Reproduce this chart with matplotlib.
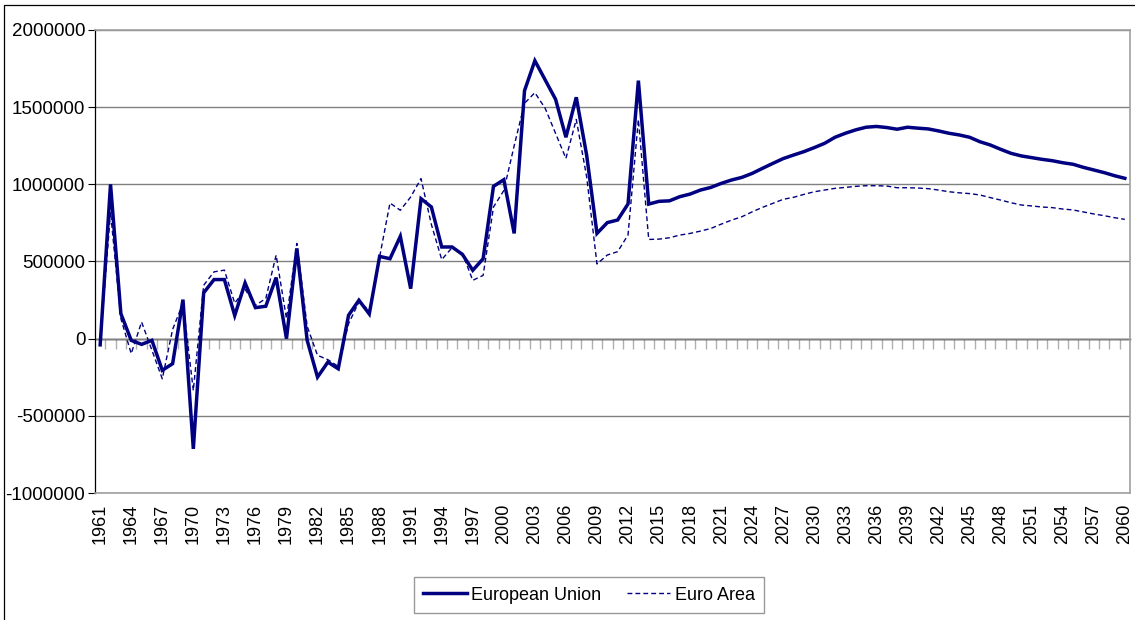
import matplotlib
matplotlib.use("Agg")
import matplotlib.pyplot as plt
from matplotlib.patches import Rectangle
import numpy as np

plt.rcParams['font.family'] = ['Liberation Sans', 'DejaVu Sans']

years = list(range(1961, 2061))

european_union = [
    -40000, 1000000, 162000, -11000, -37000, -11000, -205000, -162000, 253000, -714000,   # 1961-1970
    297000, 383000, 383000, 150000, 361000, 201000, 210000, 396000, 0, 585000,            # 1971-1980
    -11000, -249000, -152000, -195000, 152000, 249000, 160000, 533000, 518000, 663000,    # 1981-1990
    324000, 907000, 853000, 594000, 594000, 546000, 443000, 518000, 987000, 1030000,      # 1991-2000
    682000, 1607000, 1801000, 1676000, 1551000, 1305000, 1564000, 1190000, 682000, 752000,  # 2001-2010
    769000, 873000, 1672000, 872000, 890000, 893000, 920000, 937000, 963000, 980000,      # 2011-2020
    1006000, 1028000, 1045000, 1071000, 1104000, 1136000, 1167000, 1190000, 1212000, 1238000,  # 2021-2030
    1266000, 1305000, 1331000, 1353000, 1370000, 1375000, 1368000, 1357000, 1370000, 1364000,  # 2031-2040
    1359000, 1346000, 1331000, 1320000, 1305000, 1276000, 1255000, 1227000, 1201000, 1184000,  # 2041-2050
    1173000, 1162000, 1153000, 1140000, 1130000, 1110000, 1093000, 1076000, 1056000, 1039000,  # 2051-2060
]

euro_area = [
    -30000, 820000, 130000, -97000, 108000, -75000, -260000, 60000, 230000, -336000,      # 1961-1970
    346000, 433000, 444000, 230000, 320000, 216000, 260000, 541000, 130000, 617000,       # 1971-1980
    80000, -108000, -136000, -180000, 97000, 238000, 184000, 530000, 879000, 832000,      # 1981-1990
    918000, 1037000, 740000, 512000, 590000, 551000, 378000, 410000, 853000, 960000,      # 1991-2000
    1250000, 1525000, 1594000, 1492000, 1330000, 1168000, 1420000, 1050000, 484000, 542000,  # 2001-2010
    564000, 672000, 1420000, 643000, 645000, 654000, 671000, 682000, 697000, 714000,      # 2011-2020
    742000, 768000, 790000, 822000, 851000, 877000, 903000, 916000, 935000, 952000,       # 2021-2030
    963000, 974000, 980000, 987000, 991000, 991000, 989000, 978000, 978000, 976000,       # 2031-2040
    972000, 963000, 952000, 945000, 940000, 931000, 914000, 898000, 881000, 866000,       # 2041-2050
    860000, 853000, 849000, 840000, 834000, 821000, 808000, 797000, 784000, 773000,       # 2051-2060
]

series_names = ["European Union", "Euro Area"]
ytick_values = [-1000000, -500000, 0, 500000, 1000000, 1500000, 2000000]
ytick_labels = ["-1000000", "-500000", "0", "500000", "1000000", "1500000", "2000000"]
xtick_years = list(range(1961, 2061, 3))
xtick_labels = [str(y) for y in xtick_years]

W, H = 1135, 620
fig = plt.figure(figsize=(W / 100, H / 100), dpi=100)
fig.patch.set_facecolor("white")

# outer chart-area border
fig.add_artist(Rectangle((4 / W, -0.1), 2.0, 1.1 - 5 / H, transform=fig.transFigure,
                         fill=False, edgecolor="black", lw=0.9, clip_on=False))

ax = fig.add_axes([95 / W, 1 - 493 / H, (1130 - 95) / W, (493 - 30) / H])
navy = "#000080"

ax.plot(years, european_union, color=navy, lw=2.5, label=series_names[0], solid_joinstyle="miter", zorder=4)
ax.plot(years, euro_area, color=navy, lw=1.0, linestyle=(0, (3.5, 2.2)), label=series_names[1], zorder=3)

ax.set_xlim(1960.5, 2060.5)
ax.set_ylim(-1000000, 2000000)
ax.set_yticks(ytick_values)
ax.set_yticklabels(ytick_labels, fontsize=13.5)
ax.set_xticks(xtick_years)
ax.set_xticklabels(xtick_labels, rotation=90, fontsize=13)
ax.tick_params(axis="x", length=0, pad=8)
ax.tick_params(axis="y", length=5, width=0.8, color="black", pad=2, direction="out")
ax.yaxis.grid(True, color="#808080", lw=1.0)
ax.set_axisbelow(True)

for side in ["top", "right", "bottom"]:
    ax.spines[side].set_color("#a0a0a0")
    ax.spines[side].set_linewidth(1.2)
ax.spines["left"].set_color("black")
ax.spines["left"].set_linewidth(0.9)

# category axis at zero with boundary tick marks
ax2 = ax.twiny()
ax2.set_xlim(ax.get_xlim())
ax2.xaxis.set_ticks_position("bottom")
ax2.spines["bottom"].set_position(("data", 0))
ax2.spines["bottom"].set_color("black")
ax2.spines["bottom"].set_linewidth(1.0)
for side in ["top", "right", "left"]:
    ax2.spines[side].set_visible(False)
ax2.set_xticks(np.arange(years[0] + 0.5, years[-1], 1.0))
ax2.tick_params(axis="x", length=7, width=1.0, color="#b0b0b0", direction="out", labelbottom=False, labeltop=False)
ax2.set_zorder(ax.get_zorder() - 1)
ax.patch.set_visible(False)

handles, labels = ax.get_legend_handles_labels()
leg = fig.legend(handles, labels, loc="center", bbox_to_anchor=(589 / W, 1 - 595 / H), ncol=2,
                 fontsize=13, frameon=True, fancybox=False, handlelength=2.4, handletextpad=0.25,
                 columnspacing=1.4, borderpad=0.5, borderaxespad=0)
leg.get_frame().set_edgecolor("#808080")
leg.get_frame().set_linewidth(1.0)

fig.savefig("out.png", dpi=100, facecolor="white")
